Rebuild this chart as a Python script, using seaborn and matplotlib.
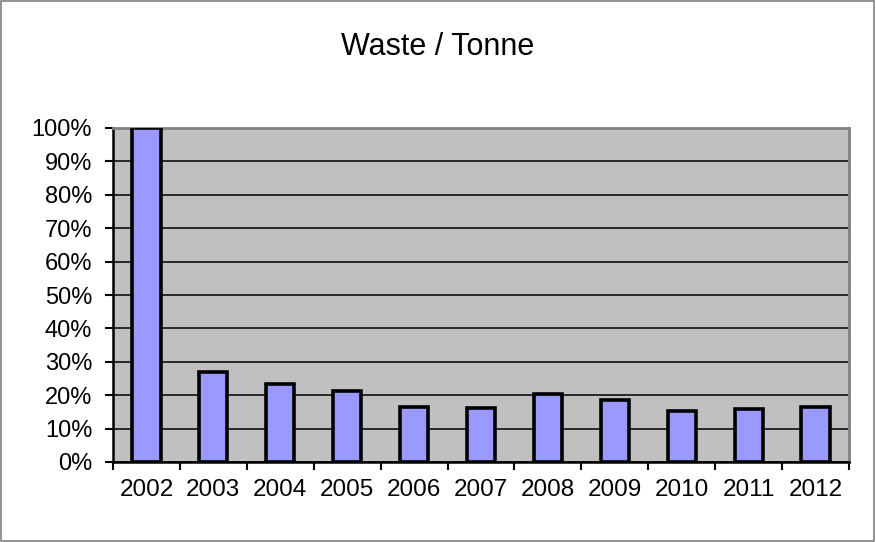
import matplotlib
matplotlib.use("Agg")
import matplotlib.pyplot as plt
import seaborn as sns
import pandas as pd
import numpy as np
from matplotlib.ticker import FixedLocator, PercentFormatter
from matplotlib.patches import Rectangle

years = ["2002", "2003", "2004", "2005", "2006", "2007", "2008", "2009", "2010", "2011", "2012"]
values = [100, 26.9, 23.4, 21.2, 16.6, 16.1, 20.4, 18.5, 15.3, 15.8, 16.6]
title = "Waste / Tonne"

sns.set_style("white")
plt.rcParams['font.family'] = ['Liberation Sans', 'DejaVu Sans']

df = pd.DataFrame({"year": years, "value": values})

fig = plt.figure(figsize=(8.76, 5.42), dpi=100)
fig.patches.append(Rectangle((0.001, 0.001), 0.997, 0.997, transform=fig.transFigure,
                             fill=False, edgecolor="#808080", linewidth=1.2))
ax = fig.add_axes([113/876, 1-462/542, (849-113)/876, (462-128)/542])
ax.set_facecolor("#C0C0C0")

sns.barplot(data=df, x="year", y="value", color="#9999FF", saturation=1,
            edgecolor="black", linewidth=2.6, width=0.42, ax=ax, zorder=3)

ax.set_ylim(0, 100)
ax.set_xlim(-0.5, len(years) - 0.5)
ax.yaxis.set_major_locator(FixedLocator(np.arange(0, 101, 10)))
ax.yaxis.set_major_formatter(PercentFormatter(decimals=0))
ax.grid(axis="y", color="black", linewidth=1.1, zorder=1)
ax.set_axisbelow(True)

ax.xaxis.set_minor_locator(FixedLocator(np.arange(-0.5, len(years), 1)))
ax.tick_params(axis="x", which="major", length=0, pad=12, labelsize=17.5, labelcolor="black")
ax.tick_params(axis="x", which="minor", length=6, width=1.5, color="black", direction="out")
ax.tick_params(axis="y", which="major", length=6, width=1.5, color="black", direction="out",
               labelsize=17, pad=9, labelcolor="black")
ax.tick_params(bottom=True, left=True, which="both")

for side in ["left", "bottom"]:
    ax.spines[side].set_color("black")
    ax.spines[side].set_linewidth(1.8)
for side in ["top", "right"]:
    ax.spines[side].set_color("#808080")
    ax.spines[side].set_linewidth(2)

ax.set_xlabel("")
ax.set_ylabel("")
fig.text(0.5, 1-47/542, title, ha="center", va="center", fontsize=22, color="black")

fig.savefig("out.png", dpi=100)
